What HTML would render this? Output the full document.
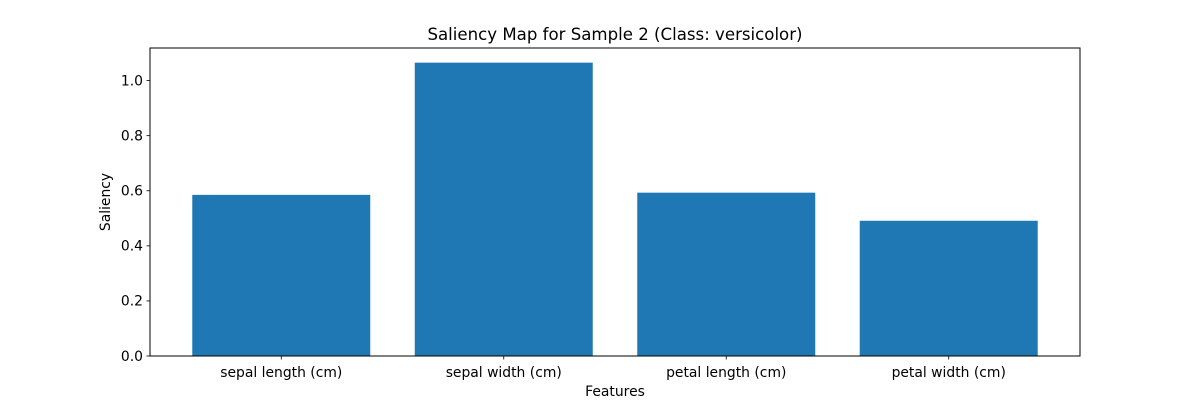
<!DOCTYPE html>
<html><head><meta charset="utf-8"><style>
body{margin:0;background:#fff;}
svg text{font-family:"DejaVu Sans","Liberation Sans",sans-serif;fill:#000;}
</style></head><body>
<svg id="chart" width="1200" height="400" viewBox="0 0 1200 400" xmlns="http://www.w3.org/2000/svg">
<rect width="1200" height="400" fill="#fff"/>
<g id="plot"></g>
</svg>
<script>
const categories = ["sepal length (cm)","sepal width (cm)","petal length (cm)","petal width (cm)"];
const saliencyValues = [0.585, 1.065, 0.593, 0.491];
const yTicks = [0.0, 0.2, 0.4, 0.6, 0.8, 1.0];
const yTickLabels = ["0.0","0.2","0.4","0.6","0.8","1.0"];

const L=150,R=1080,T=48,B=356;
const ymax=Math.max(...saliencyValues)*1.05;
const xmin=-0.59,xmax=categories.length-1+0.59;
const ys=v=>B-(v/ymax)*(B-T);
const xs=v=>L+(v-xmin)/(xmax-xmin)*(R-L);
const g=document.getElementById('plot');
const NS="http://www.w3.org/2000/svg";
function mk(tag,attrs,txt){const e=document.createElementNS(NS,tag);for(const k in attrs)e.setAttribute(k,attrs[k]);if(txt!==undefined)e.textContent=txt;g.appendChild(e);return e;}

saliencyValues.forEach((v,i)=>{
  const b=mk('rect',{x:xs(i-0.4),y:ys(v),width:xs(i+0.4)-xs(i-0.4),height:B-ys(v),fill:'#1f77b4'});
  
  
});
const frame=mk('rect',{x:L,y:T,width:R-L,height:B-T,fill:'none',stroke:'#000','stroke-width':1});



yTicks.forEach((t,i)=>{
  const y=ys(t);
  mk('line',{x1:L-3.5,x2:L,y1:y,y2:y,stroke:'#000','stroke-width':0.8});
  const lb=mk('text',{x:L-7,y:y+4.8,'text-anchor':'end','font-size':13.9},yTickLabels[i]);
  
  
});
categories.forEach((c,i)=>{
  const x=xs(i);
  mk('line',{x1:x,x2:x,y1:B,y2:B+3.5,stroke:'#000','stroke-width':0.8});
  const lb=mk('text',{x:x,y:B+21,'text-anchor':'middle','font-size':13.9},c);
  
  
});
const xt=mk('text',{x:(L+R)/2,y:396,'text-anchor':'middle','font-size':13.9},'Features');


const yt=mk('text',{x:0,y:0,'text-anchor':'middle','font-size':13.9,transform:`translate(110,${(T+B)/2}) rotate(-90)`},'Saliency');


const tt=mk('text',{x:(L+R)/2,y:40,'text-anchor':'middle','font-size':16.6},'Saliency Map for Sample 2 (Class: versicolor)');


</script>
</body></html>
